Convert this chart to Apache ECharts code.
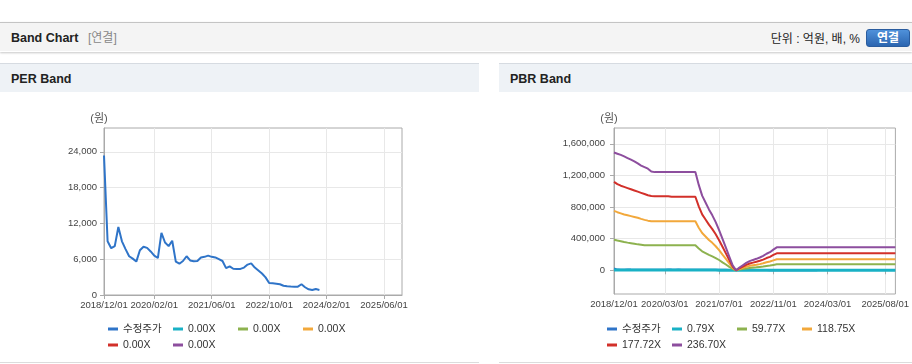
<!DOCTYPE html>
<html><head><meta charset="utf-8">
<script src="https://cdn.jsdelivr.net/npm/echarts@6/dist/echarts.min.js"></script>
<style>
html,body{margin:0;padding:0;width:912px;height:364px;overflow:hidden;background:#fff;font-family:"Liberation Sans","Noto Sans CJK KR",Arial,sans-serif;}
.bar{position:absolute;left:0;top:22px;width:912px;height:28px;background:#f4f4f4;border-top:1px solid #c4c4c4;border-bottom:1px solid #fff;box-shadow:0 1px 2px rgba(0,0,0,0.22);}
.ttl{position:absolute;left:11px;top:0;line-height:30px;font-size:12.5px;font-weight:bold;color:#222;}
.sub{position:absolute;left:88px;top:0;line-height:30px;font-size:12px;color:#888;}
.unit{position:absolute;right:52px;top:0;line-height:32px;font-size:12px;color:#222;}
.btn{position:absolute;left:866px;top:6px;width:44px;height:18px;border-radius:3px;background:linear-gradient(#4f91da,#2b65b0);border:1px solid #2a5c9e;box-sizing:border-box;color:#fff;font-weight:bold;font-size:12px;line-height:16px;text-align:center;}
.ph{position:absolute;top:63px;height:28px;background:#eef2f6;border-top:1px solid #d6dbe1;}
.ph span{position:absolute;left:11px;top:0;line-height:30px;font-size:12.5px;font-weight:bold;color:#222;}
.bl{position:absolute;top:362px;height:1px;background:#dcdcdc;}
#c{position:absolute;left:0;top:0;width:912px;height:364px;}
</style></head>
<body>
<div class="bar"><div class="ttl">Band Chart</div><div class="sub">[연결]</div><div class="unit">단위 : 억원, 배, %</div><div class="btn">연결</div></div>
<div class="ph" style="left:0;width:479px;"><span>PER Band</span></div>
<div class="ph" style="left:499px;width:413px;"><span>PBR Band</span></div>
<div class="bl" style="left:0;width:479px;"></div>
<div class="bl" style="left:499px;width:413px;"></div>
<div id="c"></div>
<script>
// ---- categories (monthly) ----
const months = [
 '2018/12/01',
 '2019/01/01','2019/02/01','2019/03/01','2019/04/01','2019/05/01','2019/06/01','2019/07/01','2019/08/01','2019/09/01','2019/10/01','2019/11/01','2019/12/01',
 '2020/01/01','2020/02/01','2020/03/01','2020/04/01','2020/05/01','2020/06/01','2020/07/01','2020/08/01','2020/09/01','2020/10/01','2020/11/01','2020/12/01',
 '2021/01/01','2021/02/01','2021/03/01','2021/04/01','2021/05/01','2021/06/01','2021/07/01','2021/08/01','2021/09/01','2021/10/01','2021/11/01','2021/12/01',
 '2022/01/01','2022/02/01','2022/03/01','2022/04/01','2022/05/01','2022/06/01','2022/07/01','2022/08/01','2022/09/01','2022/10/01','2022/11/01','2022/12/01',
 '2023/01/01','2023/02/01','2023/03/01','2023/04/01','2023/05/01','2023/06/01','2023/07/01','2023/08/01','2023/09/01','2023/10/01','2023/11/01','2023/12/01',
 '2024/01/01','2024/02/01','2024/03/01','2024/04/01','2024/05/01','2024/06/01','2024/07/01','2024/08/01','2024/09/01','2024/10/01','2024/11/01','2024/12/01',
 '2025/01/01','2025/02/01','2025/03/01','2025/04/01','2025/05/01','2025/06/01','2025/07/01','2025/08/01','2025/09/01','2025/10/01','2025/11/01'
];
// ---- tick labels ----
const perTickLabels = ['2018/12/01','2020/02/01','2021/06/01','2022/10/01','2024/02/01','2025/06/01'];
const pbrTickLabels = ['2018/12/01','2020/03/01','2021/07/01','2022/11/01','2024/03/01','2025/08/01'];
const perYTicks = [0, 6000, 12000, 18000, 24000];
const pbrYTicks = [0, 400000, 800000, 1200000, 1600000];
// ---- legend names ----
const perLegend = ['수정주가','0.00X','0.00X','0.00X','0.00X','0.00X'];
const pbrLegend = ['수정주가','0.79X','59.77X','118.75X','177.72X','236.70X'];
// ---- series values ----
const price = [
 23400, 9000, 7850, 8200, 11400, 9000, 7700, 6500, 6100, 5600,
 7500, 8100, 7900, 7300, 6600, 6200, 10400, 8800, 8200, 9100,
 5600, 5250, 5700, 6500, 5800, 5650, 5700, 6300, 6400, 6600,
 6400, 6300, 6000, 5700, 4500, 4800, 4400, 4370, 4370, 4600,
 5100, 5300, 4600, 4100, 3600, 2950, 2000, 1950, 1900, 1800,
 1550, 1450, 1420, 1400, 1400, 1800, 1300, 960, 840, 1000, 850
];
const perBand1 = [], perBand2 = [], perBand3 = [], perBand4 = [], perBand5 = [];
const pbr079 = [
 5000,4950,4900,4800,4750,4700,4600,4500,4450,4350,4300,4200,
 4150,4150,4150,4150,4150,4150,4150,4150,4150,4150,4150,4150,4150,
 3600,3150,2850,2550,2300,2050,1700,1300,950,600,200,0,
 120,210,310,390,440,480,540,610,700,760,870,
 970,970,970,970,970,970, 970,970,970,970,970,970, 970,970,970,970,970,970,
 970,970,970,970,970,970, 970,970,970,970,970,970, 970,970,970,970,970,970
];
const pbr5977 = [
 387000,377000,368000,358000,350000,343000,336000,328000,322000,
 316000,316000,316000,316000,316000,316000,316000,316000,316000,316000,316000,316000,316000,316000,316000,316000,
 275000,240000,218000,196000,177000,155000,130000,101000,73000,44000,16000,0,
 9000,17000,24000,30000,34000,38000,43000,48000,55000,60000,68000,
 76000,76000,76000,76000,76000,76000, 76000,76000,76000,76000,76000,76000, 76000,76000,76000,76000,76000,76000,
 76000,76000,76000,76000,76000,76000, 76000,76000,76000,76000,76000,76000, 76000,76000,76000,76000,76000,76000
];
const pbr11875 = [
 752000,735000,720000,705000,695000,685000,675000,665000,650000,638000,628000,
 620000,620000,620000,620000,620000,620000,620000,620000,620000,620000,620000,620000,620000,620000,
 539000,471000,428000,384000,347000,304000,254000,198000,143000,87000,31000,0,
 17000,31000,45000,56000,63000,70000,78000,88000,101000,111000,126000,
 140000,140000,140000,140000,140000,140000, 140000,140000,140000,140000,140000,140000, 140000,140000,140000,140000,140000,140000,
 140000,140000,140000,140000,140000,140000, 140000,140000,140000,140000,140000,140000, 140000,140000,140000,140000,140000,140000
];
const pbr17772 = [
 1118000,1090000,1070000,1055000,1040000,1025000,1010000,995000,980000,965000,950000,940000,
 937000,937000,937000,937000,937000,
 930000,930000,930000,930000,930000,930000,930000,930000,
 809000,707000,642000,577000,521000,456000,381000,298000,214000,130000,47000,0,
 26000,47000,69000,86000,97000,108000,120000,135000,155000,170000,194000,
 215000,215000,215000,215000,215000,215000, 215000,215000,215000,215000,215000,215000, 215000,215000,215000,215000,215000,215000,
 215000,215000,215000,215000,215000,215000, 215000,215000,215000,215000,215000,215000, 215000,215000,215000,215000,215000,215000
];
const pbr23670 = [
 1490000,1475000,1460000,1440000,1420000,1400000,1378000,1352000,1325000,1305000,1285000,1250000,
 1242000,1242000,1242000,1242000,1242000,1242000,1242000,1242000,1242000,1242000,1242000,1242000,1242000,
 1080000,944000,857000,770000,695000,609000,509000,397000,286000,174000,62000,0,
 35000,64000,93000,116000,131000,145000,162000,183000,209000,229000,261000,
 290000,290000,290000,290000,290000,290000, 290000,290000,290000,290000,290000,290000, 290000,290000,290000,290000,290000,290000,
 290000,290000,290000,290000,290000,290000, 290000,290000,290000,290000,290000,290000, 290000,290000,290000,290000,290000,290000
];

const colors = ['#2f74c8','#19b1c5','#8db24f','#f2a83b','#d2302a','#8d4e9e'];
const FONT = '"Liberation Sans","Noto Sans CJK KR",Arial,sans-serif';

const perShow = (i, v) => perTickLabels.indexOf(v) >= 0;
const pbrShow = (i, v) => pbrTickLabels.indexOf(v) >= 0;

function xAxisCfg(gi, fn) {
  return {
    type: 'category', gridIndex: gi, data: months, boundaryGap: false,
    axisLine: {show: true, lineStyle: {color: '#aaa'}},
    axisTick: {show: true, length: 4, interval: fn, lineStyle: {color: '#aaa'}},
    axisLabel: {interval: fn, margin: 6, color: '#444', fontSize: 9.5, fontFamily: FONT},
    splitLine: {show: true, interval: fn, lineStyle: {color: '#e8e8e8'}}
  };
}
function yAxisCfg(gi, min, max, ticks, margin) {
  return {
    type: 'value', gridIndex: gi, min: min, max: max,
    name: '(원)', nameLocation: 'end', nameGap: 4,
    nameTextStyle: {color: '#555', fontSize: 11, fontFamily: FONT, align: 'center', padding: [0, 10, 0, 0]},
    axisLine: {show: true, lineStyle: {color: '#aaa'}},
    axisTick: {show: true, length: 4, customValues: ticks, lineStyle: {color: '#aaa'}},
    axisLabel: {margin: margin, color: '#444', fontSize: 9.5, fontFamily: FONT, customValues: ticks,
      formatter: v => Number(v).toLocaleString('en-US')},
    splitLine: {show: true, lineStyle: {color: '#e8e8e8'}}
  };
}
function line(name, data, gi, color, w) {
  return {type: 'line', name: name, xAxisIndex: gi, yAxisIndex: gi, data: data, color: color,
    showSymbol: false, symbol: 'none', lineStyle: {width: w, color: color}, itemStyle: {color: color}};
}
function legendCfg(left, names, labels) {
  const map = {}; names.forEach((n, i) => map[n] = labels[i]);
  return {left: left, top: 322, width: 280, padding: 0, itemGap: 2, itemWidth: 10, itemHeight: 3, icon: 'rect',
    data: names, formatter: n => map[n],
    textStyle: {fontSize: 10.5, color: '#333', fontFamily: FONT, width: 48, lineHeight: 14, overflow: 'none'}};
}
const perNames = ['pp','p1','p2','p3','p4','p5'];
const pbrNames = ['bp','b1','b2','b3','b4','b5'];

const chart = echarts.init(document.getElementById('c'));
chart.setOption({
  animation: false,
  grid: [
    {left: 104, top: 128, width: 298, height: 167, show: true, borderColor: '#aaa', borderWidth: 1, backgroundColor: 'transparent'},
    {left: 614, top: 128, width: 287, height: 166, show: true, borderColor: '#aaa', borderWidth: 1, backgroundColor: 'transparent'}
  ],
  xAxis: [xAxisCfg(0, perShow), xAxisCfg(1, pbrShow)],
  yAxis: [yAxisCfg(0, 0, 28000, perYTicks, 7), yAxisCfg(1, -300000, 1800000, pbrYTicks, 9)],
  legend: [legendCfg(108, perNames, perLegend), legendCfg(607, pbrNames, pbrLegend)],
  series: [
    line('pp', price, 0, colors[0], 2),
    line('p1', perBand1, 0, colors[1], 2),
    line('p2', perBand2, 0, colors[2], 2),
    line('p3', perBand3, 0, colors[3], 2),
    line('p4', perBand4, 0, colors[4], 2),
    line('p5', perBand5, 0, colors[5], 2),
    line('bp', price, 1, colors[0], 2),
    line('b1', pbr079, 1, colors[1], 3),
    line('b2', pbr5977, 1, colors[2], 2),
    line('b3', pbr11875, 1, colors[3], 2),
    line('b4', pbr17772, 1, colors[4], 2),
    line('b5', pbr23670, 1, colors[5], 2)
  ]
});
</script>
</body></html>
